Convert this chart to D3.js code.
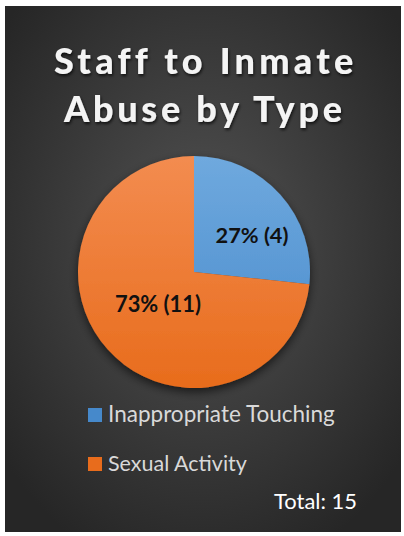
<!DOCTYPE html>
<html>
<head>
<meta charset="utf-8">
<script src="https://cdn.jsdelivr.net/npm/d3@7"></script>
<style>
  html, body { margin: 0; padding: 0; background: #fff; }
  svg { display: block; }
</style>
</head>
<body>
<svg id="main"></svg>
<script>
// data
const titleLines = ["Staff to Inmate", "Abuse by Type"];
const categories = ["Inappropriate Touching", "Sexual Activity"];
const counts = [4, 11];
const totalLabel = "Total: 15";

const ctx = { width: 404, height: 536, cx: 194, cy: 272, r: 116 };
const font = "Lato, 'Open Sans', sans-serif";

const svg = d3.select("#main").attr("width", ctx.width).attr("height", ctx.height);
const defs = svg.append("defs");

// background gradient
const bg = defs.append("radialGradient").attr("id", "bg")
  .attr("cx", "50%").attr("cy", "45%").attr("r", "65%");
bg.append("stop").attr("offset", "0%").attr("stop-color", "#525252");
bg.append("stop").attr("offset", "100%").attr("stop-color", "#262626");

// slice gradients
const sliceColors = [["#6fa9de", "#4689cb"], ["#f38c50", "#e86c1c"]];
sliceColors.forEach((c, i) => {
  const g = defs.append("linearGradient").attr("id", "g" + i)
    .attr("gradientUnits", "userSpaceOnUse")
    .attr("x1", 0).attr("y1", -ctx.r).attr("x2", 0).attr("y2", ctx.r);
  g.append("stop").attr("offset", "0%").attr("stop-color", c[0]);
  g.append("stop").attr("offset", "100%").attr("stop-color", c[1]);
});

const sh = defs.append("filter").attr("id", "shadow")
  .attr("x", "-30%").attr("y", "-30%").attr("width", "160%").attr("height", "160%");
sh.append("feDropShadow").attr("dx", 0).attr("dy", 4).attr("stdDeviation", 5)
  .attr("flood-color", "#000").attr("flood-opacity", 0.6);

const tsh = defs.append("filter").attr("id", "tshadow")
  .attr("x", "-10%").attr("y", "-30%").attr("width", "120%").attr("height", "160%");
tsh.append("feDropShadow").attr("dx", 1).attr("dy", 2).attr("stdDeviation", 1.5)
  .attr("flood-color", "#000").attr("flood-opacity", 0.7);

svg.append("rect").attr("x", 5).attr("y", 6).attr("width", 396).attr("height", 526)
  .attr("fill", "url(#bg)");

// fit helpers
function fitSpacing(sel, w) {
  const n = sel.text().length;
  const cur = sel.node().getComputedTextLength();
  sel.attr("letter-spacing", ((w - cur) / (n - 1)) + "px");
}
function fitSize(sel, w) {
  const fs = parseFloat(sel.attr("font-size"));
  const cur = sel.node().getComputedTextLength();
  sel.attr("font-size", fs * w / cur);
}

// title
const titleWidths = [298, 278];
const titleBase = [74, 122];
titleLines.forEach((t, i) => {
  const el = svg.append("text")
    .attr("x", 203 - titleWidths[i] / 2).attr("y", titleBase[i])
    .attr("font-family", font).attr("font-weight", 900).attr("font-size", 36)
    .attr("fill", "#f4f4f4").attr("filter", "url(#tshadow)")
    .text(t);
  fitSpacing(el, titleWidths[i]);
});

// pie
const total = d3.sum(counts);
const pie = d3.pie().sort(null)(counts);
const arc = d3.arc().innerRadius(0).outerRadius(ctx.r);
const g = svg.append("g").attr("transform", `translate(${ctx.cx},${ctx.cy})`);
g.append("g").attr("filter", "url(#shadow)")
  .selectAll("path").data(pie).enter().append("path")
  .attr("d", arc)
  .attr("fill", (d, i) => `url(#g${i})`);

const labelPos = [[252, 235], [158, 303]];
const labelW = [73, 86];
pie.forEach((d, i) => {
  const pct = Math.round(d.value / total * 100);
  const t = svg.append("text")
    .attr("x", labelPos[i][0]).attr("y", labelPos[i][1])
    .attr("text-anchor", "middle").attr("dominant-baseline", "central")
    .attr("font-family", font).attr("font-weight", "bold").attr("font-size", 19)
    .attr("fill", "#111")
    .text(`${pct}% (${d.value})`);
  fitSize(t, labelW[i]);
});

// legend
const legY = [415, 464];
const legW = [227, 139];
categories.forEach((c, i) => {
  svg.append("rect").attr("x", 88).attr("y", legY[i] - 7).attr("width", 14).attr("height", 14)
    .attr("fill", sliceColors[i][1]);
  const t = svg.append("text").attr("x", 108).attr("y", legY[i] + 7)
    .attr("font-family", font).attr("font-size", 20).attr("fill", "#d9d9d9")
    .text(c);
  fitSize(t, legW[i]);
});

const tot = svg.append("text").attr("x", 357).attr("y", 509)
  .attr("text-anchor", "end")
  .attr("font-family", font).attr("font-size", 20).attr("fill", "#fff")
  .text(totalLabel);
fitSize(tot, 83);
</script>
</body>
</html>
